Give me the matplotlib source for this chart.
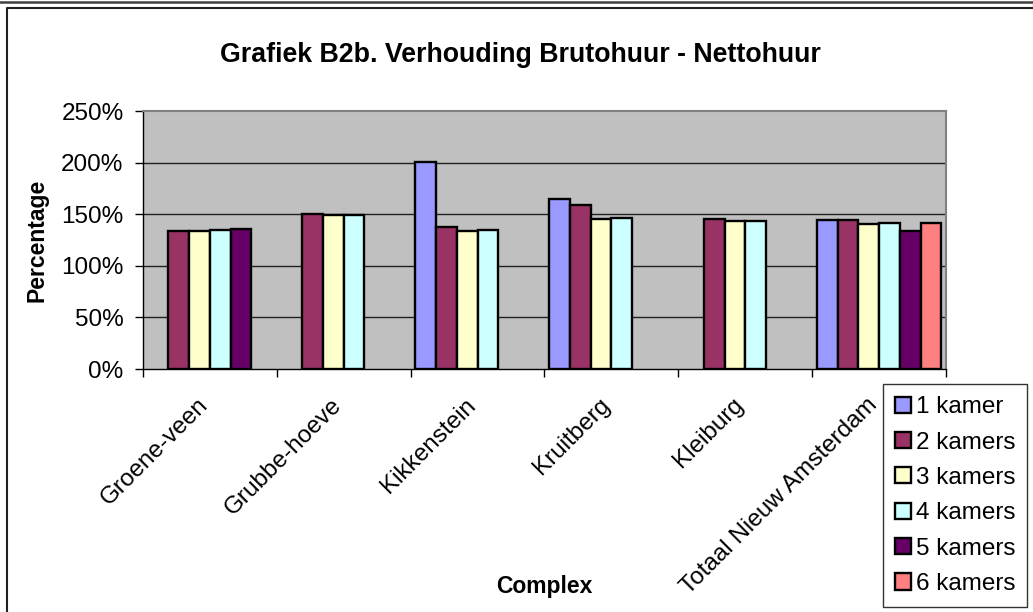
import numpy as np
import matplotlib
matplotlib.use("Agg")
import matplotlib.pyplot as plt
from matplotlib.lines import Line2D
from matplotlib.transforms import ScaledTranslation
from matplotlib.ticker import FuncFormatter

plt.rcParams['font.family'] = ['Liberation Sans', 'DejaVu Sans']

categories = ["Groene-veen", "Grubbe-hoeve", "Kikkenstein", "Kruitberg",
              "Kleiburg", "Totaal Nieuw Amsterdam"]
series_names = ["1 kamer", "2 kamers", "3 kamers", "4 kamers", "5 kamers", "6 kamers"]
nan = np.nan
kamer1 = [nan, nan, 201, 165, nan, 144]
kamer2 = [134, 150, 138, 159, 145, 144]
kamer3 = [134, 149, 134, 145, 143, 140.5]
kamer4 = [135, 149, 135, 146, 143.5, 141]
kamer5 = [136, nan, nan, nan, nan, 133.5]
kamer6 = [nan, nan, nan, nan, nan, 141.5]
series = [kamer1, kamer2, kamer3, kamer4, kamer5, kamer6]
colors = ["#9999FF", "#993366", "#FFFFCC", "#CCFFFF", "#660066", "#FF8080"]
yticks = [0, 50, 100, 150, 200, 250]

W, H = 1033, 612
FS = 17.5
fig = plt.figure(figsize=(W / 100, H / 100), dpi=100)
ax = fig.add_axes([143 / W, (H - 369) / H, (946 - 143) / W, (369 - 111) / H])
ax.set_facecolor("#C0C0C0")

x = np.arange(len(categories))
w = 0.155
for j, (vals, col, name) in enumerate(zip(series, colors, series_names)):
    ax.bar(x + (j - 2.5) * w, vals, width=w, color=col, edgecolor="black",
           linewidth=1.7, label=name, zorder=3)

ax.set_xlim(-0.5, len(categories) - 0.5)
ax.set_ylim(0, 250)
ax.set_yticks(yticks)
ax.yaxis.set_major_formatter(FuncFormatter(lambda v, p: f"{int(v)}%"))
for yv in yticks[1:-1]:
    ax.axhline(yv, color="#202020", linewidth=1.0, zorder=1)

for s in ["top", "right"]:
    ax.spines[s].set_color("#808080")
    ax.spines[s].set_linewidth(1.5)
for s in ["left", "bottom"]:
    ax.spines[s].set_color("black")
    ax.spines[s].set_linewidth(1.0)

ax.tick_params(axis="y", direction="out", length=6, width=1, pad=8, labelsize=FS)
ax.set_xticks(x)
ax.set_xticks(np.arange(len(categories) + 1) - 0.5, minor=True)
ax.tick_params(axis="x", which="major", length=0, pad=23.5, labelsize=FS)
ax.tick_params(axis="x", which="minor", length=6, width=1, direction="out")
ax.set_xticklabels(categories, rotation=45, ha="right", va="center",
                   rotation_mode="anchor")
off = ScaledTranslation(-5 / 100, 0, fig.dpi_scale_trans)
for lab in ax.get_xticklabels():
    lab.set_transform(lab.get_transform() + off)

fig.text(520 / W, 1 - 55 / H, "Grafiek B2b. Verhouding Brutohuur - Nettohuur",
         ha="center", va="center", fontsize=19.3, fontweight="bold")
fig.text(37 / W, 1 - 240 / H, "Percentage", rotation=90, ha="center",
         va="center", fontsize=16.5, fontweight="bold")
fig.text(544 / W, 1 - 586 / H, "Complex", ha="center", va="center",
         fontsize=16.5, fontweight="bold")

leg = ax.legend(loc="upper left", bbox_to_anchor=(883 / W, 1 - 384 / H),
                bbox_transform=fig.transFigure, fontsize=FS, frameon=True,
                fancybox=False, edgecolor="black", handlelength=0.65,
                handleheight=0.65, handletextpad=0.2, labelspacing=0.55,
                borderpad=0.5, borderaxespad=0)
leg.get_frame().set_linewidth(1.0)
for hnd in leg.legend_handles:
    hnd.set_linewidth(1.7)

# outer chart frame
fig.add_artist(Line2D([0, 1], [1 - 1.5 / H, 1 - 1.5 / H], transform=fig.transFigure,
                      color="#404040", linewidth=1.8))
fig.add_artist(Line2D([6.5 / W, 6.5 / W, 1.0], [0, 1 - 7.5 / H, 1 - 7.5 / H],
                      transform=fig.transFigure, color="#202020", linewidth=1.5))

fig.savefig("out.png", dpi=100, facecolor="white")
